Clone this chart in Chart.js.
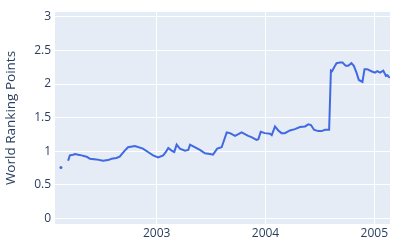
<!DOCTYPE html>
<html>
<head>
<meta charset="utf-8">
<script src="https://cdn.jsdelivr.net/npm/chart.js@4"></script>
<style>
    html, body { margin: 0; padding: 0; background: #fff; }
    #wrap { width: 400px; height: 250px; }
</style>
</head>
<body>
<div id="wrap"><canvas id="rankChart"></canvas></div>
<script>
// weekly ranking points (null = no ranking that week)
const dates = [
    '2002-02-14', '2002-02-28',
    '2002-03-10', '2002-03-16', '2002-03-27', '2002-04-02', '2002-04-13', '2002-04-24',
    '2002-05-11', '2002-05-22', '2002-06-13', '2002-07-05', '2002-07-22', '2002-08-03',
    '2002-08-19', '2002-08-30', '2002-09-16', '2002-09-27', '2002-10-20', '2002-11-16',
    '2002-12-03', '2002-12-20', '2003-01-06', '2003-01-23', '2003-02-01', '2003-02-09',
    '2003-02-20', '2003-03-01', '2003-03-09', '2003-03-20', '2003-04-06', '2003-04-17',
    '2003-04-23', '2003-05-10', '2003-05-26', '2003-06-12', '2003-06-29', '2003-07-09',
    '2003-07-23', '2003-08-07', '2003-08-24', '2003-09-04', '2003-09-21', '2003-10-13',
    '2003-11-04', '2003-11-15', '2003-12-02', '2003-12-08', '2003-12-16', '2003-12-30',
    '2004-01-16', '2004-01-22', '2004-02-02', '2004-02-13', '2004-02-24', '2004-03-06',
    '2004-03-23', '2004-04-09', '2004-04-26', '2004-05-13', '2004-05-24', '2004-06-02',
    '2004-06-12', '2004-06-26', '2004-07-08', '2004-07-19', '2004-08-02', '2004-08-08',
    '2004-08-12', '2004-08-19', '2004-08-27', '2004-09-07', '2004-09-16', '2004-09-27',
    '2004-10-05', '2004-10-16', '2004-10-24', '2004-11-02', '2004-11-10', '2004-11-22',
    '2004-11-29', '2004-12-08', '2004-12-22', '2005-01-03', '2005-01-11', '2005-01-20',
    '2005-01-31', '2005-02-09', '2005-02-14', '2005-02-22'
];
const points = [
    0.76, null,
    0.86, 0.94, 0.95, 0.96, 0.95, 0.94,
    0.92, 0.89, 0.88, 0.86, 0.87, 0.89,
    0.90, 0.92, 1.01, 1.06, 1.08, 1.04,
    0.99, 0.94, 0.91, 0.94, 0.99, 1.05,
    1.01, 0.99, 1.10, 1.04, 1.01, 1.02,
    1.10, 1.06, 1.02, 0.97, 0.96, 0.95,
    1.04, 1.06, 1.28, 1.27, 1.23, 1.28,
    1.23, 1.21, 1.17, 1.18, 1.29, 1.27,
    1.26, 1.24, 1.37, 1.31, 1.27, 1.27,
    1.31, 1.33, 1.36, 1.37, 1.40, 1.39,
    1.32, 1.30, 1.30, 1.32, 1.32, 2.20,
    2.19, 2.25, 2.31, 2.32, 2.32, 2.27,
    2.27, 2.31, 2.27, 2.17, 2.06, 2.03,
    2.22, 2.22, 2.19, 2.17, 2.19, 2.17,
    2.20, 2.12, 2.13, 2.09
];
const yearTicks = [2003, 2004, 2005];
const yTicks = [0, 0.5, 1, 1.5, 2, 2.5, 3];

const textColor = '#2a3f5f';
const font = 'Open Sans';

function toYear(s) {
    const d = Date.parse(s + 'T00:00:00Z');
    const y = new Date(d).getUTCFullYear();
    const start = Date.UTC(y, 0, 1), end = Date.UTC(y + 1, 0, 1);
    return y + (d - start) / (end - start);
}

const plotBg = {
    id: 'plotBg',
    beforeDraw(chart) {
        const { ctx, chartArea: a } = chart;
        ctx.save();
        ctx.fillStyle = '#E5ECF6';
        ctx.fillRect(a.left, a.top, a.right - a.left, a.bottom - a.top);
        ctx.restore();
    }
};

new Chart(document.getElementById('rankChart'), {
    type: 'line',
    data: {
        datasets: [{
            data: dates.map((d, i) => ({ x: toYear(d), y: points[i] })),
            borderColor: '#4169E1',
            backgroundColor: '#4169E1',
            borderWidth: 2,
            pointRadius: (c) => c.dataIndex === 0 ? 1.5 : 0,
            pointBorderWidth: 0,
            spanGaps: false,
            tension: 0
        }]
    },
    options: {
        responsive: true,
        maintainAspectRatio: false,
        animation: false,
        layout: { padding: { top: 12, right: 10, bottom: 0, left: 0 } },
        plugins: { legend: { display: false }, tooltip: { enabled: false } },
        scales: {
            x: {
                type: 'linear',
                min: 2002.066,
                max: 2005.144,
                afterBuildTicks: (s) => { s.ticks = yearTicks.map(v => ({ value: v })); },
                afterFit: (s) => { s.height = 26; },
                grid: { color: '#fff', lineWidth: 1, drawTicks: false },
                border: { display: false },
                ticks: {
                    color: textColor,
                    font: { family: font, size: 12 },
                    padding: 2,
                    maxRotation: 0,
                    callback: (v) => String(v)
                }
            },
            y: {
                min: -0.08,
                max: 3.07,
                afterBuildTicks: (s) => { s.ticks = yTicks.map(v => ({ value: v })); },
                afterFit: (s) => { s.width = 55; },
                grid: { color: '#fff', lineWidth: 1, drawTicks: false },
                border: { display: false },
                ticks: {
                    color: textColor,
                    font: { family: font, size: 12 },
                    padding: 4,
                    callback: (v) => String(v)
                },
                title: {
                    display: true,
                    text: 'World Ranking Points',
                    color: textColor,
                    font: { family: font, size: 13.5 },
                    padding: { top: 3, bottom: 0 }
                }
            }
        }
    },
    plugins: [plotBg]
});
</script>
</body>
</html>
